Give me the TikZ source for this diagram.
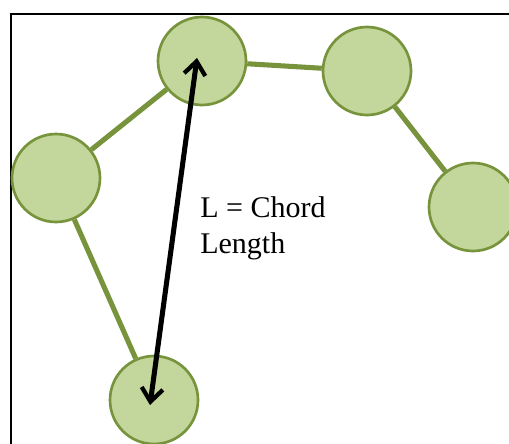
\documentclass[tikz,border=0pt]{standalone}
\usepackage{fontspec}
\setmainfont{Liberation Serif}
\usetikzlibrary{arrows.meta}
\definecolor{ballfill}{HTML}{C3D69B}
\definecolor{balledge}{HTML}{77933C}
\begin{document}
\begin{tikzpicture}[x=0.75pt,y=-0.75pt,
  ball/.style={circle,draw=balledge,fill=ballfill,line width=2pt,minimum size=88*0.75pt,inner sep=0pt},
  link/.style={draw=balledge,line width=3.8pt},
  chord/.style={draw=black,line width=3.8pt,{Straight Barb[length=10pt,width=16pt,line width=3.2pt]}-{Straight Barb[length=10pt,width=16pt,line width=3.2pt]}},
  lbl/.style={font=\fontsize{22.5}{27}\selectfont,align=left,anchor=base west,inner sep=0pt}]
\useasboundingbox (0,0) rectangle (509,443);
\clip (0,0) rectangle (509,443);
\draw[line width=1.5pt] (11,14) rectangle (530,470);
\node[ball] (top) at (202,61) {};
\node[ball] (tr) at (367,71) {};
\node[ball] (left) at (56,178) {};
\node[ball] (right) at (473,207) {};
\node[ball] (bot) at (154,400) {};
\draw[link] (left) -- (top);
\draw[link] (top) -- (tr);
\draw[link] (tr) -- (right);
\draw[link] (left) -- (bot);
\coordinate (ctop) at (197,58);
\coordinate (cbot) at (150,405);
\draw[chord] (cbot) -- (ctop);
\node[lbl] (txt) at (200,253) {L = Chord\\Length};
\end{tikzpicture}
\end{document}
